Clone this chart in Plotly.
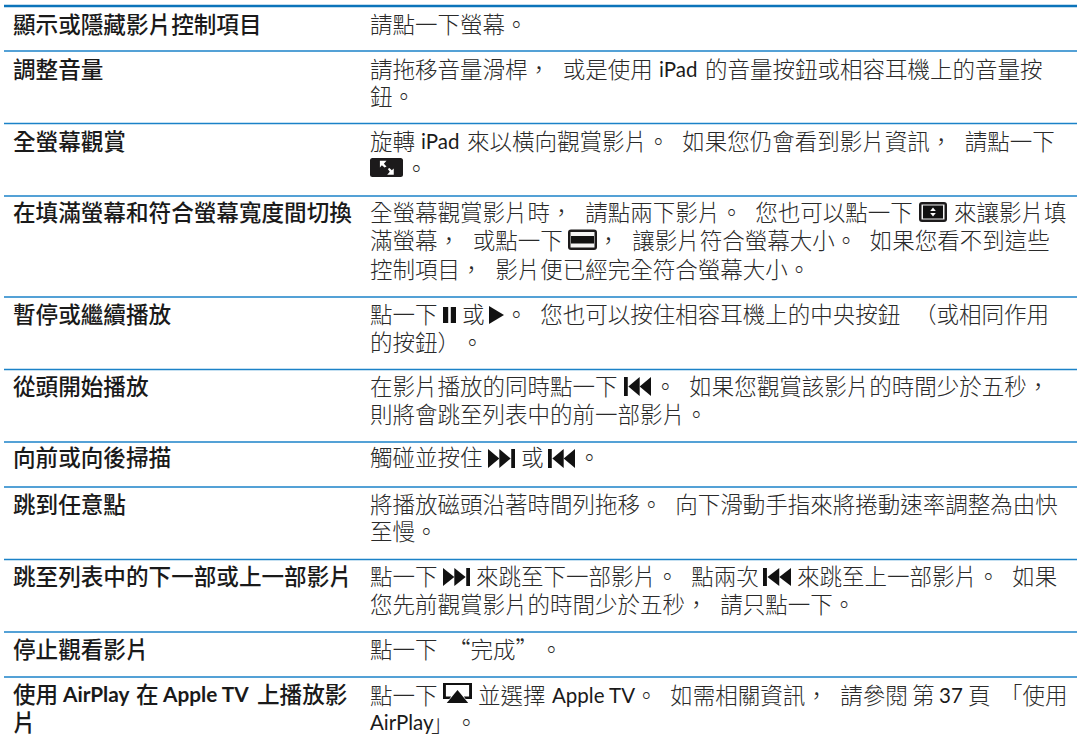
import plotly.graph_objects as go

RULE_Y = [51, 123.5, 196, 297, 369.5, 442, 487, 559.5, 632, 677]
TOP_RULE_Y = 6
LEFT_X, RIGHT_X = 4, 1077
FAMILY_CJK = "'Noto Sans CJK TC', sans-serif"
FAMILY_LATIN = "Lato, sans-serif"
GAP = "\u2002\u200a"
TEXT_DY = 2

# first column: (x, y, text)
col1_runs = [
    (13, 25, "顯示或隱藏影片控制項目"),
    (13, 70, "調整音量"),
    (13, 142, "全螢幕觀賞"),
    (13, 213, "在填滿螢幕和符合螢幕寬度間切換"),
    (13, 315, "暫停或繼續播放"),
    (13, 387, "從頭開始播放"),
    (13, 458, "向前或向後掃描"),
    (13, 505, "跳到任意點"),
    (13, 577, "跳至列表中的下一部或上一部影片"),
    (13, 650, "停止觀看影片"),
    (13, 695, "使用"),
    (136, 695, "在"),
    (257, 695, "上播放影"),
    (13, 723, "片"),
]
col1_latin = [
    (63, 695, "AirPlay"),
    (163, 695, "Apple TV"),
]

# second column: (x, y, text)
col2_runs = [
    (370, 25, "請點一下螢幕。"),
    (370, 70, f"請拖移音量滑桿，{GAP}或是使用"),
    (705, 70, "的音量按鈕或相容耳機上的音量按"),
    (370, 97, "鈕。"),
    (370, 142, "旋轉"),
    (467, 142, f"來以橫向觀賞影片。{GAP}如果您仍會看到影片資訊，{GAP}請點一下"),
    (405, 169, "。"),
    (370, 213, f"全螢幕觀賞影片時，{GAP}請點兩下影片。{GAP}您也可以點一下"),
    (954, 213, "來讓影片填"),
    (370, 241, f"滿螢幕，{GAP}或點一下"),
    (597, 241, f"，{GAP}讓影片符合螢幕大小。{GAP}如果您看不到這些"),
    (370, 270, f"控制項目，{GAP}影片便已經完全符合螢幕大小。"),
    (370, 315, "點一下"),
    (462, 315, "或"),
    (505, 315, f"。{GAP}您也可以按住相容耳機上的中央按鈕"),
    (914, 315, "（或相同作用"),
    (370, 343, "的按鈕）"),
    (461, 343, "。"),
    (370, 387, "在影片播放的同時點一下"),
    (654, 387, f"。{GAP}如果您觀賞該影片的時間少於五秒，"),
    (370, 415, "則將會跳至列表中的前一部影片。"),
    (370, 458, "觸碰並按住"),
    (521, 458, "或"),
    (578, 458, "。"),
    (370, 505, f"將播放磁頭沿著時間列拖移。{GAP}向下滑動手指來將捲動速率調整為由快"),
    (370, 532, "至慢。"),
    (370, 577, "點一下"),
    (476, 577, f"來跳至下一部影片。{GAP}點兩次"),
    (797, 577, f"來跳至上一部影片。{GAP}如果"),
    (370, 605, f"您先前觀賞影片的時間少於五秒，{GAP}請只點一下。"),
    (370, 650, "點一下"),
    (448, 650, "“完成”"),
    (540, 650, "。"),
    (370, 696, "點一下"),
    (478, 696, "並選擇"),
    (635, 696, f"。{GAP}如需相關資訊，{GAP}請參閱"),
    (912, 696, "第"),
    (968, 696, "頁"),
    (1000, 696, "「使用"),
    (431, 723, "」"),
    (455, 723, "。"),
]
col2_latin = [
    (659, 70, "iPad"),
    (421, 142, "iPad"),
    (552, 696, "Apple TV"),
    (939, 696, "37"),
    (370, 723, "AirPlay"),
]

# (kind, x0, x1, y0, y1)
icons = [
    ("fullscreen", 370, 403, 158, 177),
    ("fill", 919, 947, 202, 222),
    ("fit", 568, 597, 229.5, 250),
    ("pause", 443, 456, 307, 323),
    ("play", 489, 504, 306, 324),
    ("back", 624, 651, 377, 396),
    ("fwd", 488, 515, 449, 468),
    ("back", 548, 575, 449, 468),
    ("fwd", 443, 470, 568, 586),
    ("back", 763, 791, 568, 586),
    ("airplay", 443, 472, 683, 703),
]

INK = "#111111"


def poly(points):
    return "M" + " L".join(f"{a:.2f},{b:.2f}" for a, b in points) + " Z"


def scale(x0, x1, y0, y1, pts):
    return [(x0 + (x1 - x0) * a, y0 + (y1 - y0) * b) for a, b in pts]


def rect(x0, x1, y0, y1, color=INK):
    return dict(type="rect", xref="x", yref="y", x0=x0, x1=x1, y0=y0, y1=y1,
                fillcolor=color, line=dict(width=0))


def path(d, color=INK):
    return dict(type="path", xref="x", yref="y", path=d, fillcolor=color, line=dict(width=0))


def rounded(x0, x1, y0, y1, r=2.5):
    return (f"M{x0+r},{y0} L{x1-r},{y0} Q{x1},{y0} {x1},{y0+r} L{x1},{y1-r} Q{x1},{y1} {x1-r},{y1} "
            f"L{x0+r},{y1} Q{x0},{y1} {x0},{y1-r} L{x0},{y0+r} Q{x0},{y0} {x0+r},{y0} Z")


def icon_shapes(kind, x0, x1, y0, y1):
    out = []
    if kind == "pause":
        out += [rect(x0, x0 + (x1 - x0) * .4, y0, y1), rect(x0 + (x1 - x0) * .6, x1, y0, y1)]
    elif kind == "play":
        out.append(path(poly(scale(x0, x1, y0, y1, [(0, 0), (1, .5), (0, 1)]))))
    elif kind == "back":
        out.append(rect(x0, x0 + (x1 - x0) * .14, y0, y1))
        out.append(path(poly(scale(x0, x1, y0, y1, [(.16, .5), (.58, 0), (.58, 1)]))))
        out.append(path(poly(scale(x0, x1, y0, y1, [(.58, .5), (1, 0), (1, 1)]))))
    elif kind == "fwd":
        out.append(rect(x1 - (x1 - x0) * .14, x1, y0, y1))
        out.append(path(poly(scale(x0, x1, y0, y1, [(.84, .5), (.42, 0), (.42, 1)]))))
        out.append(path(poly(scale(x0, x1, y0, y1, [(.42, .5), (0, 0), (0, 1)]))))
    elif kind == "fullscreen":
        out.append(path(rounded(x0, x1, y0, y1), "#1c1a1b"))
        out.append(path(poly(scale(x0, x1, y0, y1, [(.3, .15), (.5, .15), (.42, .3), (.5, .45), (.44, .5), (.36, .38), (.3, .5)])), "#ffffff"))
        out.append(path(poly(scale(x0, x1, y0, y1, [(.72, .88), (.52, .88), (.6, .72), (.54, .58), (.59, .53), (.66, .65), (.72, .55)])), "#ffffff"))
    elif kind == "fill":
        out.append(path(rounded(x0, x1, y0, y1, 3), "#1c1a1b"))
        out.append(rect(x0 + 2.5, x1 - 2.5, y0 + 2.5, y1 - 2.5, "#f4f4f4"))
        out.append(rect(x0 + 4, x1 - 4, y0 + 3.5, y1 - 3.5, "#111111"))
        out.append(path(poly(scale(x0, x1, y0, y1, [(.5, .27), (.6, .45), (.4, .45)])), "#ffffff"))
        out.append(path(poly(scale(x0, x1, y0, y1, [(.5, .73), (.6, .55), (.4, .55)])), "#ffffff"))
    elif kind == "fit":
        out.append(path(rounded(x0, x1, y0, y1, 3), "#1c1a1b"))
        out.append(rect(x0 + 2.5, x1 - 2.5, y0 + 2.5, y1 - 2.5, "#f4f4f4"))
        out.append(rect(x0 + 3, x1 - 3, y0 + 6.5, y1 - 6.5, "#111111"))
    elif kind == "airplay":
        out.append(path(
            poly(scale(x0, x1, y0, y1, [(0, 0), (1, 0), (1, .8), (.78, .8), (.72, .68), (.9, .68), (.9, .1),
                                        (.1, .1), (.1, .68), (.28, .68), (.22, .8), (0, .8)]))))
        out.append(path(poly(scale(x0, x1, y0, y1, [(.5, .35), (.87, 1), (.13, 1)]))))
    return out


shapes = [dict(type="line", xref="x", yref="y", x0=LEFT_X, x1=RIGHT_X, y0=TOP_RULE_Y, y1=TOP_RULE_Y,
               line=dict(color="#0c74ba", width=2.5))]
for ry in RULE_Y:
    shapes.append(dict(type="line", xref="x", yref="y", x0=LEFT_X, x1=RIGHT_X, y0=ry, y1=ry,
                       line=dict(color="#1b82c8", width=1.5)))
for ic in icons:
    shapes += icon_shapes(*ic)


def text_trace(runs, family, size, color, weight):
    return go.Scatter(
        x=[r[0] for r in runs], y=[r[1] + TEXT_DY for r in runs], text=[r[2] for r in runs],
        mode="text", textposition="middle right", hoverinfo="skip",
        textfont=dict(family=family, size=size, color=color, weight=weight),
    )


fig = go.Figure()
fig.add_trace(text_trace(col1_runs, FAMILY_CJK, 22.6, "#1a1a1a", 500))
fig.add_trace(text_trace(col1_latin, FAMILY_LATIN, 20.8, "#1a1a1a", 700))
fig.add_trace(text_trace(col2_runs, FAMILY_CJK, 22.5, "#2a2a2a", 300))
fig.add_trace(text_trace(col2_latin, FAMILY_LATIN, 20.5, "#1a1a1a", 400))
fig.update_layout(
    width=1082, height=744, margin=dict(l=0, r=0, t=0, b=0), autosize=False,
    paper_bgcolor="#ffffff", plot_bgcolor="#ffffff", showlegend=False, shapes=shapes,
    xaxis=dict(range=[0, 1082], visible=False, fixedrange=True),
    yaxis=dict(range=[744, 0], visible=False, fixedrange=True),
)
fig.write_html("out.html", config=dict(displayModeBar=False),
               post_script="document.body.style.margin='0';document.body.style.overflow='hidden';")
